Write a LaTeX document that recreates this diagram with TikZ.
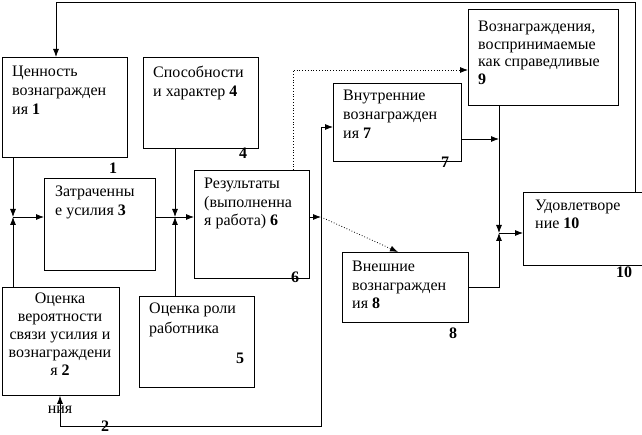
\documentclass[tikz,border=0pt]{standalone}
\usepackage{fontspec}
\setmainfont{Liberation Serif}
\usetikzlibrary{arrows.meta,positioning}
\tikzset{
    block/.style={
    rectangle,draw=black,line width=0.8pt,anchor=north west,inner sep=0pt
    },
    txt/.style={
    anchor=north west,inner sep=0pt,align=left,font=\fontsize{16}{19}\selectfont
    },
    num/.style={
    inner sep=0pt,font=\fontsize{16}{19}\selectfont\bfseries
    },
    arr/.style={
    -{Latex[length=8pt,width=6pt]},line width=0.8pt
    },
    link/.style={
    line width=0.8pt
    },
}

\begin{document}
\begin{tikzpicture}[x=1pt,y=-1pt]
   \useasboundingbox (0,0) rectangle (642,435);
   % blocks
   \node[block,minimum width=125pt,minimum height=100pt] (v1) at (2,57) {};
   \node[block,minimum width=115pt,minimum height=91pt] (v4) at (143,57) {};
   \node[block,minimum width=111pt,minimum height=92pt] (v3) at (44,178) {};
   \node[block,minimum width=115pt,minimum height=108pt] (v6) at (194,170) {};
   \node[block,minimum width=117pt,minimum height=108pt] (v2) at (2,287) {};
   \node[block,minimum width=115pt,minimum height=91pt] (v5) at (139,296) {};
   \node[block,minimum width=128pt,minimum height=78pt] (v7) at (333,83) {};
   \node[block,minimum width=150pt,minimum height=96pt] (v9) at (468,9) {};
   \node[block,minimum width=122pt,minimum height=73pt] (v10) at (523,192) {};
   \node[block,minimum width=126pt,minimum height=70pt] (v8) at (342,252) {};

   % texts
   \node[txt] (t1) at (12,66) {Ценность\\вознагражден\\ия \textbf{1}};
   \node[txt] (t4) at (153,66) {Способности\\и характер \textbf{4}};
   \node[txt] (t3) at (55,186) {Затраченны\\е усилия \textbf{3}};
   \node[txt,font=\fontsize{16}{18.5}\selectfont] (t6) at (204,178) {Результаты\\(выполненна\\я работа) \textbf{6}};
   \node[txt,anchor=north,align=center,font=\fontsize{16}{18}\selectfont] (t2) at (60,293)
      {Оценка\\вероятности\\связи усилия и\\вознаграждени\\я \textbf{2}};
   \node[txt,font=\fontsize{16}{20}\selectfont] (t5) at (149,303) {Оценка роли\\работника};
   \node[txt] (t7) at (343,90) {Внутренние\\вознагражден\\ия \textbf{7}};
   \node[txt,font=\fontsize{16}{17.5}\selectfont] (t9) at (478,21) {Вознаграждения,\\воспринимаемые\\как справедливые\\\textbf{9}};
   \node[txt,font=\fontsize{16}{18}\selectfont] (t10) at (535,200) {Удовлетворе\\ние \textbf{10}};
   \node[txt,font=\fontsize{16}{18.5}\selectfont] (t8) at (352,261) {Внешние\\вознагражден\\ия \textbf{8}};

   % numbers
   \node[num] (n1) at (113,168) {1};
   \node[num] (n4) at (243,153) {4};
   \node[num] (n5) at (240,358) {5};
   \node[num] (n6) at (295,277) {6};
   \node[num] (n7) at (445,162) {7};
   \node[num] (n8) at (453,333) {8};
   \node[num] (n10) at (624,272) {10};
   \node[num] (n2) at (105,426.5) {2};
   \node[txt,anchor=center] (nia) at (60,410) {ния};

   % junctions
   \coordinate (j1) at (13,217);
   \coordinate (j2) at (175,217);
   \coordinate (j3) at (321,217);
   \coordinate (j4) at (499,233);
   \coordinate (j5) at (499,139);
   \coordinate (c1) at (321,426);
   \coordinate (c2) at (60,426);
   \coordinate (c3) at (321,127);
   \coordinate (d1) at (293,70);
   \coordinate (f1) at (635,2);
   \coordinate (f2) at (56,2);
   \coordinate (g1) at (499,287);

   \draw[arr] (v1.south west -| j1) -- (j1);
   \draw[arr] (v2.north west -| j1) -- (j1);
   \draw[arr] (j1) -- (j1 -| v3.west);
   \draw[arr] (v4.south -| j2) -- (j2);
   \draw[arr] (v5.north -| j2) -- (j2);
   \draw[link] (v3.east |- j2) -- (j2);
   \draw[arr] (j2) -- (j2 -| v6.west);
   \draw[arr] (v6.east |- j3) -- (j3);
   \draw[arr,dotted] (j3) -- ([xshift=56pt]v8.north west);
   \draw[arr,{Latex[length=8pt,width=6pt]}-{Latex[length=8pt,width=6pt]}]
      (c3 -| v7.west) -- (c3) -- (c1) -- (c2) -- (c2 |- v2.south);
   \draw[arr,dotted] (v6.north -| d1) -- (d1) -- (d1 -| v9.west);
   \draw[arr] (v10.north -| f1) -- (f1) -- (f2) -- (f2 |- v1.north);
   \draw[arr] (j5 -| v7.east) -- (j5);
   \draw[arr] (v9.south -| j4) -- (j4);
   \draw[arr] (g1 -| v8.east) -- (g1) -- (j4);
   \draw[arr] (j4) -- (j4 -| v10.west);
\end{tikzpicture}
\end{document}
